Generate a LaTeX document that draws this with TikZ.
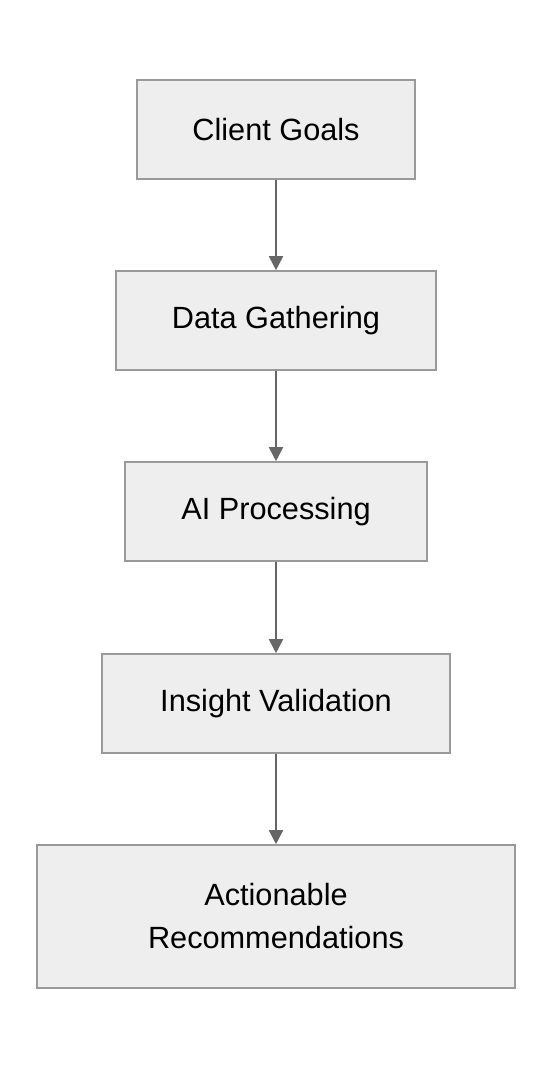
\documentclass[tikz,border=0pt]{standalone}
\usepackage{fontspec}
\setmainfont{Liberation Sans}
\usetikzlibrary{arrows.meta}
\definecolor{boxfill}{HTML}{EEEEEE}
\definecolor{boxline}{HTML}{999999}
\definecolor{arrowcol}{HTML}{666666}
\begin{document}
\begin{tikzpicture}[x=1pt,y=-1pt,
  stepbox/.style={draw=boxline, fill=boxfill, line width=1.6pt, inner sep=0pt,
    align=center, font=\fontsize{30.7}{43}\selectfont, text=black},
  flow/.style={draw=arrowcol, line width=1.8pt, -{Triangle[width=14pt,length=14pt]}}]
\useasboundingbox[fill=white] (0,0) rectangle (552,1068);
\node[stepbox, minimum width=278pt, minimum height=99pt] (a) at (276,129.5) {Client Goals};
\node[stepbox, minimum width=320pt, minimum height=99pt] (b) at (276,320.5) {Data Gathering};
\node[stepbox, minimum width=302pt, minimum height=99pt] (c) at (276,511.5) {AI Processing};
\node[stepbox, minimum width=348pt, minimum height=99pt] (d) at (276,703.5) {Insight Validation};
\node[stepbox, minimum width=478pt, minimum height=143pt] (e) at (276,916.5) {Actionable\\Recommendations};
\draw[flow] (a) -- (b);
\draw[flow] (b) -- (c);
\draw[flow] (c) -- (d);
\draw[flow] (d) -- (e);
\end{tikzpicture}
\end{document}
